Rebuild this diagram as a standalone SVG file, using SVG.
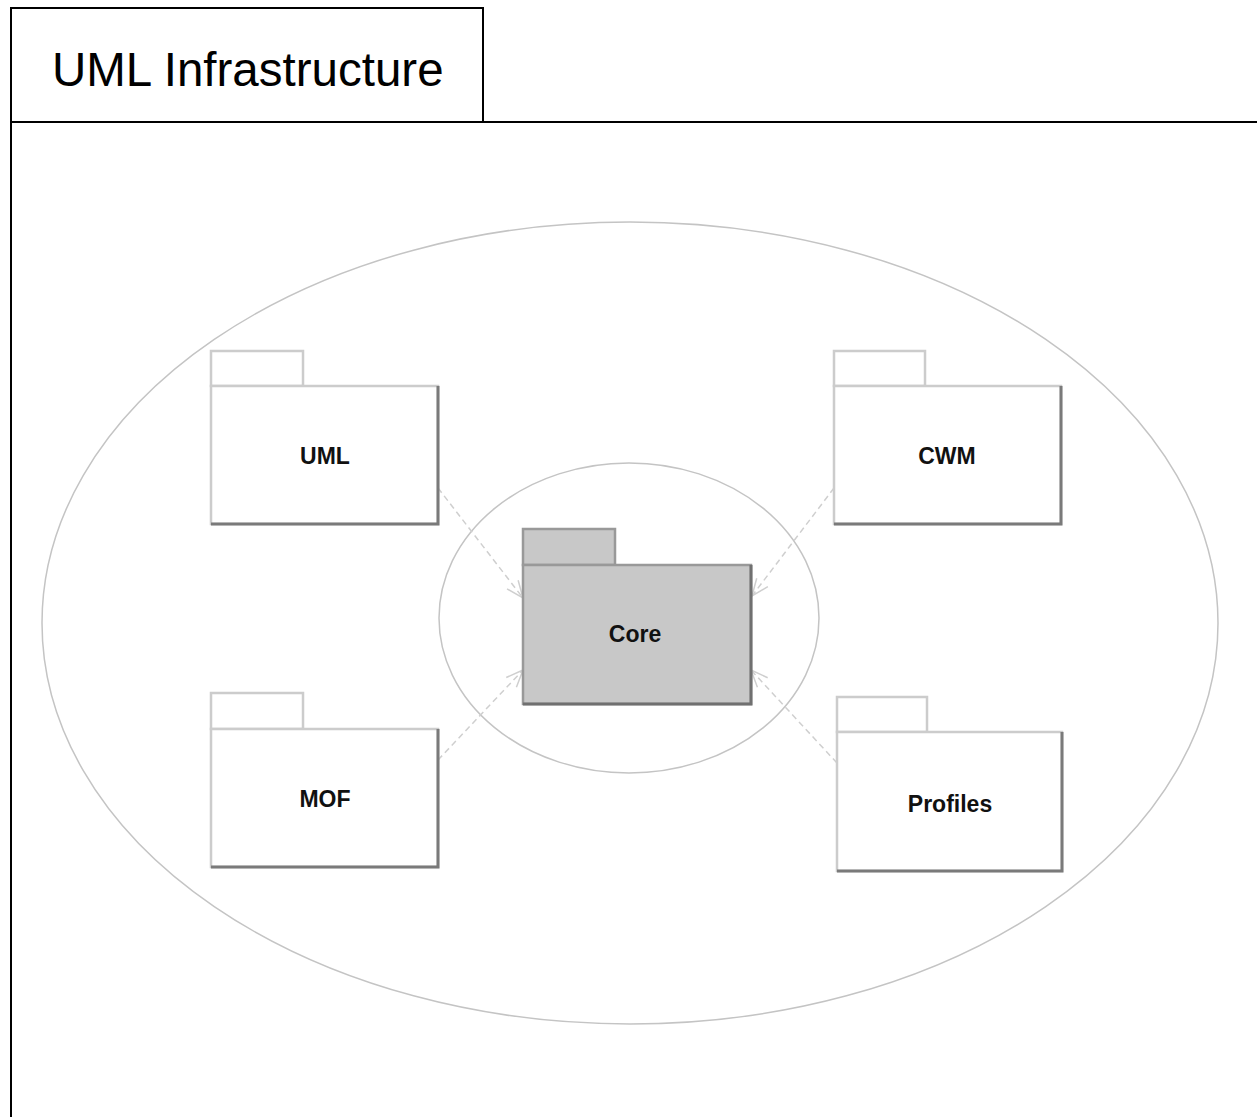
<svg xmlns="http://www.w3.org/2000/svg" width="1257" height="1117" viewBox="0 0 1257 1117">
<style>
.frame{fill:none;stroke:#000;stroke-width:2}
.ell{fill:none;stroke:#c4c4c4;stroke-width:1.5}
.pk{fill:#fff;stroke:#cccccc;stroke-width:2.5}
.sh{fill:none;stroke:#7a7a7a;stroke-width:3}
.core{fill:#c8c8c8;stroke:#999;stroke-width:2.5}
.coresh{fill:none;stroke:#707070;stroke-width:3}
.lbl{font-family:"Liberation Sans",Arial,sans-serif;font-size:23px;font-weight:bold;fill:#111;text-anchor:middle}
.title{font-family:"Liberation Sans",Arial,sans-serif;font-size:47.5px;fill:#000}
.dep{fill:none;stroke:#cfcfcf;stroke-width:1.5;stroke-dasharray:6 4;marker-end:url(#open)}
</style>
<defs>
<marker id="open" viewBox="0 0 20 20" refX="19" refY="10" markerWidth="20" markerHeight="20" markerUnits="userSpaceOnUse" orient="auto">
<path d="M2,3 L19,10 L2,17" fill="none" stroke="#cfcfcf" stroke-width="1.5"/>
</marker>
</defs>
<rect class="frame" x="11" y="122" width="1270" height="1020"/>
<rect class="frame" x="11" y="8" width="472" height="114"/>
<text class="title" x="52" y="86">UML Infrastructure</text>
<ellipse class="ell" cx="630" cy="623" rx="588" ry="401"/>
<ellipse class="ell" cx="629" cy="618" rx="190" ry="155"/>
<g id="connectors">
<line class="dep" x1="438" y1="488" x2="523" y2="598"/>
<line class="dep" x1="834" y1="488" x2="752" y2="596"/>
<line class="dep" x1="438" y1="760" x2="523" y2="670"/>
<line class="dep" x1="837" y1="763" x2="751" y2="670"/>
</g>
<g id="core">
<rect class="core" x="523" y="529" width="92" height="36"/>
<rect class="core" x="523" y="565" width="228" height="139"/>
<path class="coresh" d="M751,565 V704 H523"/>
<text class="lbl" x="635" y="642">Core</text>
</g>
<g id="uml">
<rect class="pk" x="211" y="351" width="92" height="35"/>
<rect class="pk" x="211" y="386" width="227" height="138"/>
<path class="sh" d="M438,386 V524 H211"/>
<text class="lbl" x="325" y="464">UML</text>
</g>
<g id="cwm">
<rect class="pk" x="834" y="351" width="91" height="35"/>
<rect class="pk" x="834" y="386" width="227" height="138"/>
<path class="sh" d="M1061,386 V524 H834"/>
<text class="lbl" x="947" y="464">CWM</text>
</g>
<g id="mof">
<rect class="pk" x="211" y="693" width="92" height="36"/>
<rect class="pk" x="211" y="729" width="227" height="138"/>
<path class="sh" d="M438,729 V867 H211"/>
<text class="lbl" x="325" y="807">MOF</text>
</g>
<g id="profiles">
<rect class="pk" x="837" y="697" width="90" height="35"/>
<rect class="pk" x="837" y="732" width="225" height="139"/>
<path class="sh" d="M1062,732 V871 H837"/>
<text class="lbl" x="950" y="812">Profiles</text>
</g>
</svg>
